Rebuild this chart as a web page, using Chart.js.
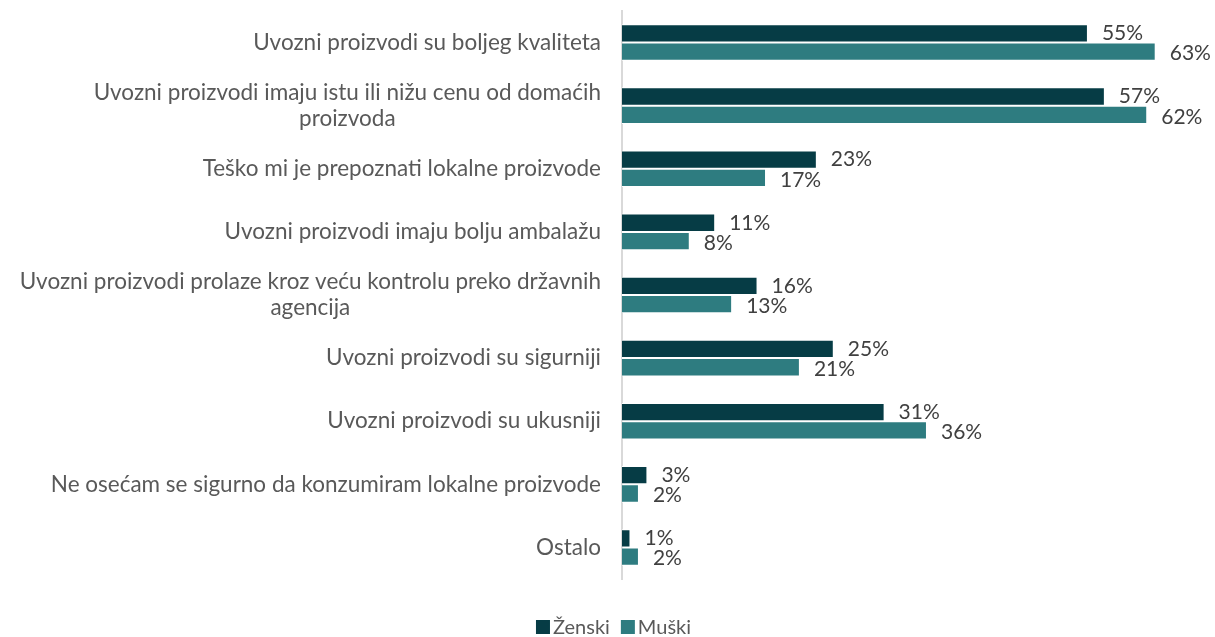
<!DOCTYPE html>
<html>
<head>
<meta charset="utf-8">
<script src="https://cdn.jsdelivr.net/npm/chart.js@4.4.0/dist/chart.umd.min.js"></script>
<style>
    html, body { margin: 0; padding: 0; background: #ffffff; }
    #wrap { width: 1215px; height: 637px; position: relative; }
</style>
</head>
<body>
<div id="wrap"><canvas id="chart"></canvas></div>
<script>
    const categories = [
        ['Uvozni proizvodi su boljeg kvaliteta'],
        ['Uvozni proizvodi imaju istu ili nižu cenu od domaćih', 'proizvoda'],
        ['Teško mi je prepoznati lokalne proizvode'],
        ['Uvozni proizvodi imaju bolju ambalažu'],
        ['Uvozni proizvodi prolaze kroz veću kontrolu preko državnih', 'agencija'],
        ['Uvozni proizvodi su sigurniji'],
        ['Uvozni proizvodi su ukusniji'],
        ['Ne osećam se sigurno da konzumiram lokalne proizvode'],
        ['Ostalo']
    ];
    const zenski = [55, 57, 23, 11, 16, 25, 31, 3, 1];
    const muski = [63, 62, 17, 8, 13, 21, 36, 2, 2];
    const seriesNames = ['Ženski', 'Muški'];

    const FONT = 'Lato, "Open Sans", sans-serif';

    // category labels: block right-aligned next to the axis, lines centered
    const categoryLabels = {
        id: 'categoryLabels',
        afterDraw(chart) {
            const ctx = chart.ctx;
            const y = chart.scales.y;
            const right = 601;
            const lineH = 26;
            ctx.save();
            ctx.font = '22.5px ' + FONT;
            ctx.fillStyle = '#595959';
            ctx.textAlign = 'center';
            ctx.textBaseline = 'middle';
            categories.forEach((lines, i) => {
                const cy = y.getPixelForValue(i);
                const w = Math.max(...lines.map(l => ctx.measureText(l).width));
                const cx = right - w / 2;
                const top = cy - (lines.length - 1) * lineH / 2;
                lines.forEach((l, k) => ctx.fillText(l, cx, top + k * lineH));
            });
            ctx.restore();
        }
    };

    // percent labels at the bar ends
    const valueLabels = {
        id: 'valueLabels',
        afterDatasetsDraw(chart) {
            const ctx = chart.ctx;
            ctx.save();
            ctx.font = '21px ' + FONT;
            ctx.fillStyle = '#404040';
            ctx.textAlign = 'left';
            ctx.textBaseline = 'middle';
            chart.data.datasets.forEach((ds, di) => {
                chart.getDatasetMeta(di).data.forEach((bar, i) => {
                    ctx.fillText(ds.data[i] + '%', bar.x + 14, bar.y + (di === 0 ? 0 : 2));
                });
            });
            ctx.restore();
        }
    };

    // legend at the bottom, centered on the canvas
    const bottomLegend = {
        id: 'bottomLegend',
        afterDraw(chart) {
            const ctx = chart.ctx;
            const box = 14, gap = 3, space = 11;
            const cy = 627;
            ctx.save();
            ctx.font = '20px ' + FONT;
            ctx.textBaseline = 'middle';
            ctx.textAlign = 'left';
            const items = chart.data.datasets.map(ds => ({
                text: ds.label, color: ds.backgroundColor, w: ctx.measureText(ds.label).width
            }));
            const total = items.reduce((s, it) => s + box + gap + it.w, 0) + space * (items.length - 1);
            let x = chart.width / 2 + 6 - total / 2;
            items.forEach(it => {
                ctx.fillStyle = it.color;
                ctx.fillRect(x, cy - box / 2, box, box);
                x += box + gap;
                ctx.fillStyle = '#595959';
                ctx.fillText(it.text, x, cy + 1);
                x += it.w + space;
            });
            ctx.restore();
        }
    };

    new Chart(document.getElementById('chart'), {
        type: 'bar',
        data: {
            labels: categories.map(c => c.join(' ')),
            datasets: [
                {
                    label: seriesNames[0],
                    data: zenski,
                    backgroundColor: '#063c45',
                    borderColor: '#ffffff',
                    borderWidth: 1,
                    categoryPercentage: 0.58,
                    barPercentage: 1
                },
                {
                    label: seriesNames[1],
                    data: muski,
                    backgroundColor: '#2e7c80',
                    borderColor: '#ffffff',
                    borderWidth: 1,
                    categoryPercentage: 0.58,
                    barPercentage: 1
                }
            ]
        },
        options: {
            indexAxis: 'y',
            responsive: true,
            maintainAspectRatio: false,
            animation: false,
            layout: { padding: { left: 0, right: 0, top: 11, bottom: 58 } },
            scales: {
                x: {
                    min: 0,
                    max: 70,
                    display: false
                },
                y: {
                    grid: { display: false, drawTicks: false },
                    border: { display: true, color: '#d9d9d9', width: 2 },
                    ticks: { display: false },
                    afterFit(scale) { scale.width = 622; }
                }
            },
            plugins: {
                legend: { display: false },
                tooltip: { enabled: false }
            }
        },
        plugins: [categoryLabels, valueLabels, bottomLegend]
    });
</script>
</body>
</html>
